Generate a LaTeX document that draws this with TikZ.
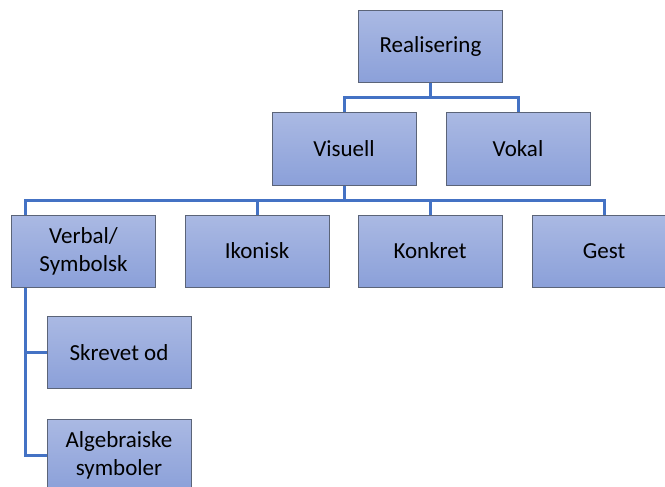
\documentclass[tikz,border=0pt]{standalone}
\usepackage{fontspec}
\setmainfont{Carlito}
\definecolor{boxtop}{HTML}{AAB9E3}
\definecolor{boxbot}{HTML}{8BA0D9}
\definecolor{boxline}{HTML}{5B6478}
\definecolor{conn}{HTML}{4472C4}
\begin{document}
\begin{tikzpicture}[x=1pt,y=-1pt,
  box/.style={draw=boxline, line width=1pt, top color=boxtop, bottom color=boxbot,
    minimum width=144pt, minimum height=72pt, inner sep=2pt, align=center,
    font=\fontsize{23}{28}\selectfont, text=black},
  link/.style={draw=conn, line width=3pt}]
\useasboundingbox (0,0) rectangle (665,487);
\clip (0,0) rectangle (665,487);
\node[box] (R) at (430.5,46.5) {Realisering};
\node[box] (V) at (344,149) {Visuell};
\node[box] (K) at (518,149) {Vokal};
\node[box] (VS) at (83.5,251) {Verbal/\\Symbolsk};
\node[box] (I) at (257,251) {Ikonisk};
\node[box] (KO) at (430,251) {Konkret};
\node[box] (G) at (604,251) {Gest};
\node[box] (S) at (119,352.5) {Skrevet od};
\node[box] (A) at (119,455) {Algebraiske\\symboler};
\draw[link] (R.south) -- (R.south |- 0,98) -| (V.north);
\draw[link] (R.south |- 0,98) -| (K.north);
\draw[link] (V.south) -- (V.south |- 0,200) -| ([xshift=14pt]VS.north west);
\draw[link] (V.south |- 0,200) -| (I.north);
\draw[link] (V.south |- 0,200) -| (KO.north);
\draw[link] (V.south |- 0,200) -| (G.north);
\coordinate (T) at ([xshift=14pt]VS.south west);
\draw[link] (T) |- (S.west);
\draw[link] (T) |- (A.west);
% redraw boxes above connectors
\node[box] at (R) {Realisering};
\node[box] at (V) {Visuell};
\node[box] at (K) {Vokal};
\node[box] at (VS) {Verbal/\\Symbolsk};
\node[box] at (I) {Ikonisk};
\node[box] at (KO) {Konkret};
\node[box] at (G) {Gest};
\node[box] at (S) {Skrevet od};
\node[box] at (A) {Algebraiske\\symboler};
\end{tikzpicture}
\end{document}
